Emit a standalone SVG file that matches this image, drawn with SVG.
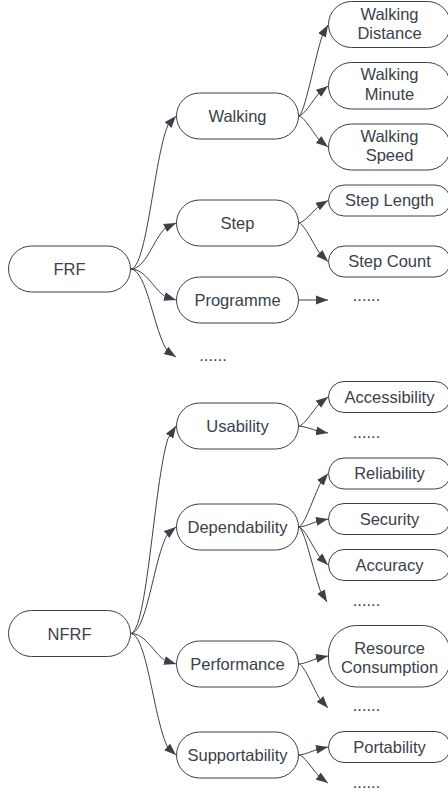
<svg xmlns="http://www.w3.org/2000/svg" width="448" height="792" viewBox="0 0 448 792">
<style>
.box{fill:#ffffff;stroke:#3a414a;stroke-width:1}
.t{font-family:"Liberation Sans",Arial,sans-serif;font-size:16.5px;fill:#3a414a;text-anchor:middle}
.e{fill:none;stroke:#3a414a;stroke-width:1;marker-end:url(#ah)}
</style>
<defs>
<marker id="ah" markerUnits="userSpaceOnUse" markerWidth="13" markerHeight="10" viewBox="0 0 13 10" refX="12" refY="5" orient="auto">
<path d="M0,0.6 L12,5 L0,9.4 z" fill="#3a414a"/>
</marker>
</defs>
<rect width="448" height="792" fill="#ffffff"/>
<g id="connectors">
<path class="e" d="M130.5,269 C147.1,269 153.9,158.5 167.9,125.3 L176,116"/>
<path class="e" d="M130.5,269 C146.1,269 153.1,239.6 165.5,227.8 L176,223"/>
<path class="e" d="M130.5,269 C146.1,269 153.1,288.8 165.5,296.8 L176,300"/>
<path class="e" d="M130.5,269 C147.1,269 153.9,332.6 167.9,351.7 L176,357"/>
<path class="e" d="M130.5,633.5 C147.1,633.5 153.9,483.6 167.9,438.6 L176,426"/>
<path class="e" d="M130.5,633.5 C147.1,633.5 153.9,556.6 167.9,533.5 L176,527"/>
<path class="e" d="M130.5,633.5 C146.1,633.5 153.1,653 165.5,660.8 L176,664"/>
<path class="e" d="M130.5,633.5 C147.1,633.5 153.9,721.3 167.9,747.6 L176,755"/>
<path class="e" d="M298.5,116 C304.5,116 314.7,57.8 322.6,34.5 L328,25"/>
<path class="e" d="M298.5,116 C303.8,116 312.2,101.3 319.5,92.5 L328,86"/>
<path class="e" d="M298.5,116 C303.8,116 312.2,131.2 319.5,140.3 L328,147"/>
<path class="e" d="M298.5,223 C303.8,223 312.2,212 319.5,205.4 L328,200.5"/>
<path class="e" d="M298.5,223 C303.8,223 312.2,241.9 319.5,253.2 L328,261.5"/>
<path class="e" d="M298.5,300 L328,300"/>
<path class="e" d="M298.5,426 C303.8,426 312.2,411.8 319.5,403.3 L328,397"/>
<path class="e" d="M298.5,426 C303.8,426 312.2,429.4 319.5,431.5 L328,433"/>
<path class="e" d="M298.5,527 C304.1,527 313.4,496.9 321.1,481.9 L328,473.5"/>
<path class="e" d="M298.5,527 C303.8,527 312.2,523.1 319.5,520.7 L328,519"/>
<path class="e" d="M298.5,527 C303.8,527 312.2,545.6 319.5,556.8 L328,565"/>
<path class="e" d="M298.5,527 C304.1,527 312.8,569.2 320.2,590.3 L327,602"/>
<path class="e" d="M298.5,664 C303.8,664 312.2,660.1 319.5,657.7 L328,656"/>
<path class="e" d="M298.5,664 C303.8,664 312.2,685.6 319.5,698.5 L328,708"/>
<path class="e" d="M298.5,755 C303.8,755 312.2,751.1 319.5,748.7 L328,747"/>
<path class="e" d="M298.5,755 C303.8,755 312.2,768.7 319.5,777 L328,783"/>
</g>
<g id="frf"><rect class="box" x="8.5" y="246" width="122" height="46" rx="23"/><text class="t" x="69.5" y="275">FRF</text></g>
<g id="nfrf"><rect class="box" x="8.5" y="610.5" width="122" height="46" rx="23"/><text class="t" x="69.5" y="639.5">NFRF</text></g>
<g id="walking"><rect class="box" x="176.5" y="93" width="122" height="46" rx="23"/><text class="t" x="237.5" y="122">Walking</text></g>
<g id="step"><rect class="box" x="176.5" y="200" width="122" height="46" rx="23"/><text class="t" x="237.5" y="229">Step</text></g>
<g id="programme"><rect class="box" x="176.5" y="277" width="122" height="46" rx="23"/><text class="t" x="237.5" y="306">Programme</text></g>
<g id="frf-more"><text class="t" x="213" y="361">......</text></g>
<g id="usability"><rect class="box" x="176.5" y="403" width="122" height="46" rx="23"/><text class="t" x="237.5" y="432">Usability</text></g>
<g id="dependability"><rect class="box" x="176.5" y="504" width="122" height="46" rx="23"/><text class="t" x="237.5" y="533">Dependability</text></g>
<g id="performance"><rect class="box" x="176.5" y="641" width="122" height="46" rx="23"/><text class="t" x="237.5" y="670">Performance</text></g>
<g id="supportability"><rect class="box" x="176.5" y="732" width="122" height="46" rx="23"/><text class="t" x="237.5" y="761">Supportability</text></g>
<g id="walking-distance"><rect class="box" x="328.5" y="1.5" width="122" height="46" rx="23"/><text class="t" x="389.5" y="19.5">Walking</text><text class="t" x="389.5" y="39.2">Distance</text></g>
<g id="walking-minute"><rect class="box" x="328.5" y="62.5" width="122" height="46.5" rx="23"/><text class="t" x="389.5" y="80.3">Walking</text><text class="t" x="389.5" y="100">Minute</text></g>
<g id="walking-speed"><rect class="box" x="328.5" y="124" width="122" height="46" rx="23"/><text class="t" x="389.5" y="141.5">Walking</text><text class="t" x="389.5" y="161.2">Speed</text></g>
<g id="step-length"><rect class="box" x="328.5" y="185" width="122" height="31" rx="15.5"/><text class="t" x="389.5" y="205.5">Step Length</text></g>
<g id="step-count"><rect class="box" x="328.5" y="246" width="122" height="31" rx="15.5"/><text class="t" x="389.5" y="267">Step Count</text></g>
<g id="programme-more"><text class="t" x="366.5" y="301">......</text></g>
<g id="accessibility"><rect class="box" x="328.5" y="381.5" width="122" height="31" rx="15.5"/><text class="t" x="389.5" y="402.8">Accessibility</text></g>
<g id="usability-more"><text class="t" x="366.5" y="438">......</text></g>
<g id="reliability"><rect class="box" x="328.5" y="458" width="122" height="31" rx="15.5"/><text class="t" x="389.5" y="479.2">Reliability</text></g>
<g id="security"><rect class="box" x="328.5" y="503.5" width="122" height="31" rx="15.5"/><text class="t" x="389.5" y="525">Security</text></g>
<g id="accuracy"><rect class="box" x="328.5" y="549.5" width="122" height="31" rx="15.5"/><text class="t" x="389.5" y="571">Accuracy</text></g>
<g id="dependability-more"><text class="t" x="366.5" y="606">......</text></g>
<g id="resource-consumption"><rect class="box" x="328.5" y="625.5" width="122" height="61.5" rx="28"/><text class="t" x="389.5" y="653.5">Resource</text><text class="t" x="389.5" y="673">Consumption</text></g>
<g id="performance-more"><text class="t" x="366.5" y="711">......</text></g>
<g id="portability"><rect class="box" x="328.5" y="731.5" width="122" height="31" rx="15.5"/><text class="t" x="389.5" y="753">Portability</text></g>
<g id="supportability-more"><text class="t" x="366.5" y="788">......</text></g>
</svg>
